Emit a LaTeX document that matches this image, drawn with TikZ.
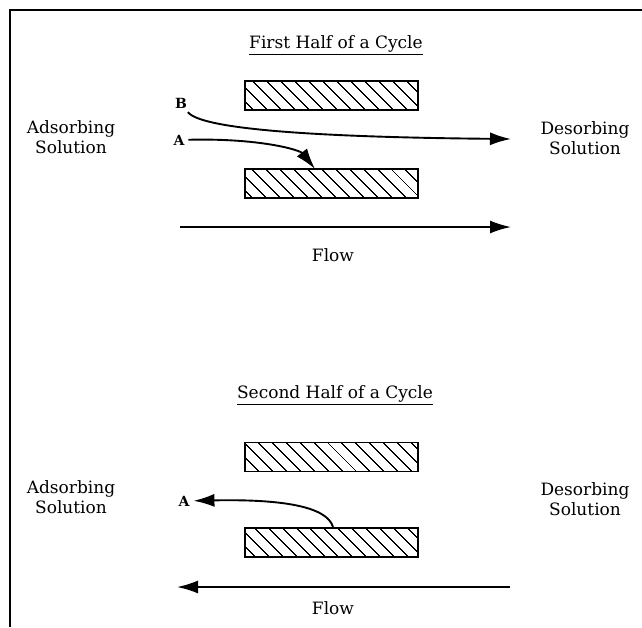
\documentclass[tikz,border=0pt]{standalone}
\usepackage{fontspec}
\setmainfont{DejaVu Serif}
\usepackage{tikz}
\usetikzlibrary{arrows.meta}
\usetikzlibrary{patterns.meta}
\tikzstyle{plate}=[draw=black, line width=1.9pt, minimum width=173pt, minimum height=29pt, inner sep=0pt, pattern={Lines[angle=-45, distance=10.5pt, line width=1.3pt]}]
\tikzstyle{txt}=[inner sep=0pt, align=center, font=\fontsize{17}{20}\selectfont]
\tikzstyle{lbl}=[inner sep=0pt, outer sep=4pt, font=\fontsize{14}{16}\selectfont\bfseries]
\tikzstyle{arr}=[line width=1.9pt, -{Latex[length=21pt, width=13pt]}]

\begin{document}
\begin{tikzpicture}[x=1pt, y=-1pt]
    \useasboundingbox (0,0) rectangle (642,627);
    \coordinate (c0) at (10,627);
    \coordinate (c1) at (10,10);
    \coordinate (c2) at (642,10);
    \draw[line width=1.6pt] (c0) -- (c1) -- (c2);

    % first half
    \node[txt] (t1) at (336,45) {\underline{First Half of a Cycle}};
    \node[plate] (up1) at (331.5,95.5) {};
    \node[plate] (lo1) at (331.5,183.5) {};
    \node[txt] (ads1) at (71,137) {Adsorbing\\Solution};
    \node[txt] (des1) at (585,138) {Desorbing\\Solution};
    \node[lbl] (B1) at (181,103) {B};
    \node[lbl] (A1) at (179,140) {A};
    \coordinate (b1end) at (511,139);
    \coordinate (a1end) at (315,169);
    \draw[arr] (B1) .. controls (200,128) and (300,137) .. (b1end);
    \draw[arr] (A1) .. controls (260,138) and (300,150) .. (a1end);
    \coordinate (f1a) at (180,227);
    \coordinate (f1b) at (511,227);
    \draw[arr] (f1a) -- (f1b);
    \node[txt] (flow1) at (333,255) {Flow};

    % second half
    \node[txt] (t2) at (335,395) {\underline{Second Half of a Cycle}};
    \node[plate] (up2) at (331.5,457) {};
    \node[plate] (lo2) at (331.5,542.5) {};
    \node[txt] (ads2) at (71,497) {Adsorbing\\Solution};
    \node[txt] (des2) at (585,499) {Desorbing\\Solution};
    \node[lbl] (A2) at (184,501) {A};
    \coordinate (a2start) at (333,527);
    \draw[arr] (a2start) .. controls (327,506) and (280,499) .. (A2);
    \coordinate (f2a) at (510,587);
    \coordinate (f2b) at (177,587);
    \draw[arr] (f2a) -- (f2b);
    \node[txt] (flow2) at (333,608) {Flow};
\end{tikzpicture}
\end{document}
